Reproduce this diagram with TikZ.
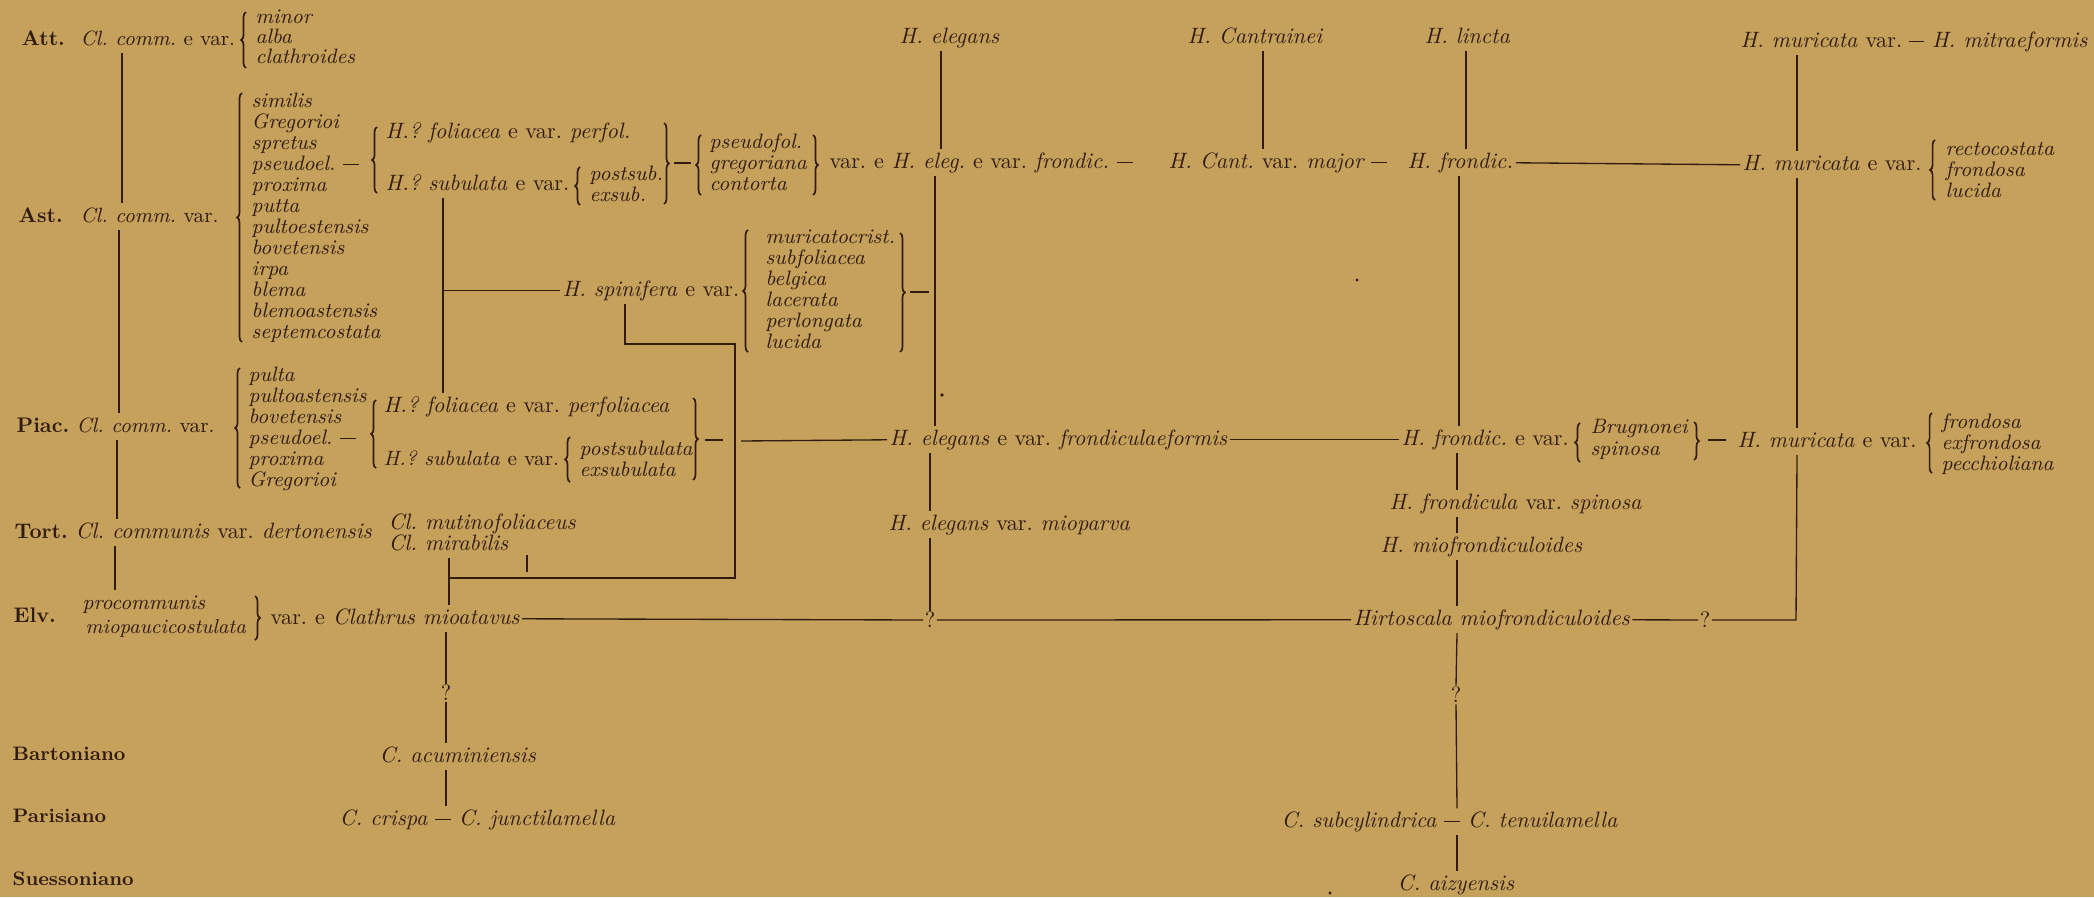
\documentclass[tikz,border=0pt]{standalone}
\usetikzlibrary{decorations.pathreplacing}
\definecolor{paper}{RGB}{197,161,92}
\definecolor{ink}{RGB}{50,27,17}
\newcommand{\uvar}{\textup{var.}}
\newcommand{\uev}{\textup{e var.}}
\newcommand{\ue}{\textup{e}}
\newcommand{\dsh}{\rule[2.3pt]{7pt}{0.55pt}}
\begin{document}
\frenchspacing
\begin{tikzpicture}[x=0.45pt,y=-0.45pt,
  t/.style={anchor=base west, inner sep=1pt, text=ink, font=\fontsize{10}{11}\selectfont\itshape, text height=7.2pt, text depth=2.5pt},
  tn/.style={t, font=\fontsize{9.3}{11}\selectfont\itshape},
  li/.style={t, font=\fontsize{9.4}{11}\selectfont\itshape},
  lab/.style={anchor=base west, inner sep=1pt, text=ink, font=\fontsize{9.5}{11}\selectfont\bfseries},
  labtwo/.style={anchor=base west, inner sep=1pt, text=ink, font=\fontsize{8.8}{10}\selectfont\bfseries},
  q/.style={inner sep=0.5pt, text=ink, font=\fontsize{10}{11}\selectfont},
  ln/.style={draw=ink, line width=0.6pt},
  brc/.style={decorate, decoration={brace, amplitude=2.2pt}, draw=ink, line width=0.75pt}]
\fill[paper] (0,0) rectangle (2094,897);
\useasboundingbox (0,0) rectangle (2094,897);

% ---- period labels
\node[lab] (att) at (19,45) {Att.};
\node[lab] (ast) at (16,222) {Ast.};
\node[lab] (piac) at (14,432) {Piac.};
\node[lab] (tort) at (12,538) {Tort.};
\node[lab] (elv) at (11,622) {Elv.};
\node[labtwo] (bart) at (10,760) {Bartoniano};
\node[labtwo] (paris) at (10,822) {Parisiano};
\node[labtwo] (suess) at (10,885) {Suessoniano};

% ---- Att. row
\node[tn] (clatt) at (78,45) {Cl. comm. \uev};
\draw[brc] (246,68) -- (246,12);
\node[li] (attA) at (253,23) {minor};
\node[li] (attB) at (253,43) {alba};
\node[li] (attC) at (253,63) {clathroides};
\node[t] (helegans) at (897,43) {H. elegans};
\node[t] (hcantr) at (1185,43) {H. Cantrainei};
\node[t] (hlincta) at (1422,43) {H. lincta};
\node[t] (hmurtop) at (1738,47) {H. muricata \uvar};
\node[t, anchor=base east] (hmitra) at (2090,47) {\dsh\ H. mitraeformis};

% ---- Ast. row
\node[tn] (clast) at (78,222) {Cl. comm. \uvar};
\draw[brc] (242,342) -- (242,93);
\foreach \w [count=\i from 0] in {similis,Gregorioi,spretus,{pseudoel.\ \dsh},proxima,putta,pultoestensis,bovetensis,irpa,blema,blemoastensis,septemcostata}
  \node[li] (astl\i) at (249,107+21*\i) {\w};
\draw[brc] (377,193) -- (377,127);
\node[t] (hfolA) at (383,138) {H.? foliacea \uev{} perfol.};
\node[t] (hsubA) at (383,190) {H.? subulata \uev};
\draw[brc] (580,205) -- (580,167);
\node[li] (pstA) at (587,180) {postsub.};
\node[li] (exsA) at (587,201) {exsub.};
\draw[brc] (664,123) -- (664,204);
\draw[brc] (701,195) -- (701,135);
\coordinate (dA1) at (674,163);
\coordinate (dA2) at (691,163);
\draw[ln] (dA1) -- (dA2);
\node[li] (pfol) at (707,148) {pseudofol.};
\node[li] (greg) at (707,169) {gregoriana};
\node[li] (cont) at (707,190) {contorta};
\draw[brc] (813,135) -- (813,195);
\node[t] (heleg) at (827,168) {\uvar{} \ue{} H. eleg. \uev{} frondic.\ \dsh};
\node[t] (hcant) at (1166,168) {H. Cant. \uvar{} major \dsh};
\node[t] (hfrondic) at (1405,168) {H. frondic.};
\node[t] (hmurast) at (1740,170) {H. muricata \uev};
\draw[brc] (1935,200) -- (1935,140);
\node[li] (rect) at (1943,155) {rectocostata};
\node[li] (frA) at (1943,176) {frondosa};
\node[li] (lucA) at (1943,197) {lucida};

% ---- spinifera group
\node[t] (hspin) at (560,296) {H. spinifera \uev};
\draw[brc] (748,352) -- (748,230);
\foreach \w [count=\i from 0] in {muricatocrist.,subfoliacea,belgica,lacerata,perlongata,lucida}
  \node[li] (spl\i) at (763,243+21*\i) {\w};
\draw[brc] (900,233) -- (900,352);
\coordinate (dS1) at (910,292);
\coordinate (dS2) at (929,292);
\draw[ln] (dS1) -- (dS2);

% ---- Piac. row
\node[tn] (clpiac) at (74,432) {Cl. comm. \uvar};
\draw[brc] (240,488) -- (240,368);
\foreach \w [count=\i from 0] in {pulta,pultoastensis,bovetensis,{pseudoel.\ \dsh},proxima,Gregorioi}
  \node[li] (pil\i) at (246,381+21*\i) {\w};
\draw[brc] (376,468) -- (376,400);
\node[t] (hfolB) at (381,412) {H.? foliacea \uev{} perfoliacea};
\node[tn] (hsubB) at (381,465) {H.? subulata \uev};
\draw[brc] (570,482) -- (570,437);
\node[li] (pstB) at (577,455) {postsubulata};
\node[li] (exsB) at (577,476) {exsubulata};
\draw[brc] (693,398) -- (693,480);
\coordinate (dB1) at (705,440);
\coordinate (dB2) at (723,440);
\draw[ln] (dB1) -- (dB2);
\coordinate (pj) at (741,441);
\node[t] (helegpiac) at (887,445) {H. elegans \uev{} frondiculaeformis};
\node[t] (hfrondpiac) at (1399,445) {H. frondic. \uev};
\draw[brc] (1580,462) -- (1580,423);
\node[li] (brug) at (1588,433) {Brugnonei};
\node[li] (spinB) at (1588,455) {spinosa};
\draw[brc] (1694,422) -- (1694,460);
\coordinate (dC1) at (1708,440);
\coordinate (dC2) at (1726,440);
\draw[ln] (dC1) -- (dC2);
\node[t] (hmurpiac) at (1735,447) {H. muricata \uev};
\draw[brc] (1932,473) -- (1932,413);
\node[li] (frB) at (1939,428) {frondosa};
\node[li] (exfr) at (1939,449) {exfrondosa};
\node[li] (pecc) at (1939,470) {pecchioliana};

% ---- Tort. row
\node[t] (cltort) at (73,538) {Cl. communis \uvar{} dertonensis};
\node[t] (clmut) at (386,529) {Cl. mutinofoliaceus};
\node[t] (clmir) at (386,550) {Cl. mirabilis};
\node[t] (helmio) at (886,530) {H. elegans \uvar{} mioparva};
\node[t] (hfrspin) at (1387,509) {H. frondicula \uvar{} spinosa};
\node[t] (hmiofr) at (1378,552) {H. miofrondiculoides};

% ---- Elv. row
\node[li] (procomm) at (80,609) {procommunis};
\node[tn, font=\fontsize{9.1}{11}\selectfont\itshape] (miopauc) at (83,633) {miopaucicostulata};
\draw[brc] (255,596) -- (255,640);
\node[t] (clath) at (268,624) {\uvar{} \ue{} Clathrus mioatavus};
\node[q] (qA) at (930,620) {?};
\node[t] (hirto) at (1351,625) {Hirtoscala miofrondiculoides};
\node[q] (qB) at (1705,620) {?};
\coordinate (cornR) at (1796,620);

% ---- lower rows
\node[q] (qC) at (446,693) {?};
\node[t] (cacum) at (377,762) {C. acuminiensis};
\node[t] (ccrispa) at (337,825) {C. crispa \dsh\ C. junctilamella};
\node[q] (qD) at (1456,695) {?};
\node[t] (csubcyl) at (1279,827) {C. subcylindrica \dsh\ C. tenuilamella};
\node[t] (caizy) at (1395,890) {C. aizyensis};

% ---- column coordinates
\coordinate (xa) at (122,0); \coordinate (xb) at (119,0);
\coordinate (xc) at (117,0); \coordinate (xd) at (115,0);
\coordinate (xs) at (443,0); \coordinate (xl) at (446,0);
\coordinate (xe) at (941,0); \coordinate (xf) at (935,0);
\coordinate (xg) at (930,0); \coordinate (xh) at (1263,0);
\coordinate (xi) at (1466,0); \coordinate (xj) at (1459,0);
\coordinate (xk) at (1457,0); \coordinate (xm) at (1797,0);
\coordinate (sp1) at (625,344); \coordinate (sp2) at (735,344);
\coordinate (sp3) at (735,578); \coordinate (sp4) at (449,578);
\coordinate (tk) at (527,555);

% ---- connectors: Clathrus line
\draw[ln] (clatt.south -| xa) -- (clast.north -| xa);
\draw[ln] (clast.south -| xb) -- (clpiac.north -| xb);
\draw[ln] (clpiac.south -| xc) -- (cltort.north -| xc);
\draw[ln] (cltort.south -| xd) -- (procomm.north -| xd);
\draw[ln] (hsubA.south -| xs) -- (hfolB.north -| xs);
\draw[ln] (hspin.west -| xs) -- (hspin.west);
\draw[ln] (hspin.south -| sp1) -- (sp1) -- (sp2) -- (sp3) -- (sp4);
\draw[ln] (clmir.south -| sp4) -- (clath.north -| sp4);
\draw[ln] (tk) -- ++(0,17);
\draw[ln] (clath.east) -- (qA.west);
\draw[ln] (qA.east) -- (hirto.west);
\draw[ln] (clath.south -| xl) -- (qC.north);
\draw[ln] (qC.south) -- (cacum.north -| xl);
\draw[ln] (cacum.south -| xl) -- (ccrispa.north -| xl);

% ---- connectors: elegans line
\draw[ln] (helegans.south -| xe) -- (heleg.north -| xe);
\draw[ln] (heleg.south -| xf) -- (helegpiac.north -| xf);
\draw[ln] (helegpiac.south -| xg) -- (helmio.north -| xg);
\draw[ln] (helmio.south -| xg) -- (qA.north);
\draw[ln] (pj) -- (helegpiac.west);
\draw[ln] (helegpiac.east) -- (hfrondpiac.west);

% ---- connectors: frondicula line
\draw[ln] (hcantr.south -| xh) -- (hcant.north -| xh);
\draw[ln] (hlincta.south -| xi) -- (hfrondic.north -| xi);
\draw[ln] (hfrondic.south -| xj) -- (hfrondpiac.north -| xj);
\draw[ln] (hfrondpiac.south -| xk) -- (hfrspin.north -| xk);
\draw[ln] (hfrspin.south -| xk) -- (hmiofr.north -| xk);
\draw[ln] (hmiofr.south -| xk) -- (hirto.north -| xk);
\draw[ln] (hirto.south -| xk) -- (qD.north);
\draw[ln] (qD.south) -- (csubcyl.north -| xk);
\draw[ln] (csubcyl.south -| xk) -- (caizy.north -| xk);
\draw[ln] (hfrondic.east) -- (hmurast.west);

% ---- connectors: muricata line
\draw[ln] (hmurtop.south -| xm) -- (hmurast.north -| xm);
\draw[ln] (hmurast.south -| xm) -- (hmurpiac.north -| xm);
\draw[ln] (hmurpiac.south -| xm) -- (cornR) -- (qB.east);
\draw[ln] (qB.west) -- (hirto.east);

% ---- specks
\fill[ink] (942,395) circle (0.8pt);
\fill[ink] (1357,280) circle (0.7pt);
\fill[ink] (1330,893) circle (0.7pt);
\end{tikzpicture}
\end{document}
